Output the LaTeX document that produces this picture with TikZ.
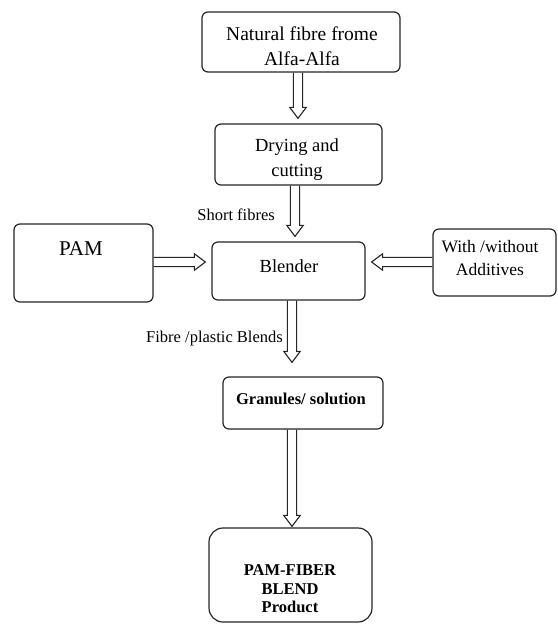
\documentclass[tikz,border=0pt]{standalone}
\usepackage{fontspec}
\setmainfont{Liberation Serif}
\usetikzlibrary{calc}
\tikzset{
  box/.style={draw=black!85, line width=1.2pt, rounded corners=6pt, inner sep=0pt},
  bigbox/.style={box, rounded corners=14pt},
  txt/.style={align=center, inner sep=0pt, font=\fontsize{18.5}{25}\selectfont},
  lbl/.style={inner sep=0pt, font=\fontsize{16.5}{18}\selectfont},
  btxt/.style={align=center, inner sep=0pt, font=\fontsize{16.5}{18.5}\selectfont\bfseries},
  harrow/.style={draw=black!85, line width=1.1pt, line join=miter}
}
% vertical down hollow arrow: #1 x, #2 from node, #3 to node, #4 gap above target
\newcommand{\dnarrow}[4]{%
  \draw[harrow] let \p1=(#2.south), \p2=(#3.north), \p3=(#1,0) in
    (\x3-4.6pt,\y1) -- (\x3-4.6pt,\y2+#4+11pt) -- (\x3-8.2pt,\y2+#4+11pt) --
    (\x3,\y2+#4) -- (\x3+8.2pt,\y2+#4+11pt) -- (\x3+4.6pt,\y2+#4+11pt) -- (\x3+4.6pt,\y1);}
% horizontal hollow arrow to the right: #1 y, #2 from node, #3 to node, #4 gap
\newcommand{\rtarrow}[4]{%
  \draw[harrow] let \p1=(#2.east), \p2=(#3.west), \p3=(0,#1) in
    (\x1,\y3+4.6pt) -- (\x2-#4-11pt,\y3+4.6pt) -- (\x2-#4-11pt,\y3+8.2pt) --
    (\x2-#4,\y3) -- (\x2-#4-11pt,\y3-8.2pt) -- (\x2-#4-11pt,\y3-4.6pt) -- (\x1,\y3-4.6pt);}
% horizontal hollow arrow to the left
\newcommand{\ltarrow}[4]{%
  \draw[harrow] let \p1=(#2.west), \p2=(#3.east), \p3=(0,#1) in
    (\x1,\y3+4.6pt) -- (\x2+#4+11pt,\y3+4.6pt) -- (\x2+#4+11pt,\y3+8.2pt) --
    (\x2+#4,\y3) -- (\x2+#4+11pt,\y3-8.2pt) -- (\x2+#4+11pt,\y3-4.6pt) -- (\x1,\y3-4.6pt);}
\begin{document}
\begin{tikzpicture}[x=1pt, y=-1pt]
\useasboundingbox[fill=white] (0,0) rectangle (557,626);

% boxes
\node[box, minimum width=198pt, minimum height=60pt] (nat) at (301,42) {};
\node[txt, font=\fontsize{19.5}{25}\selectfont] (natT) at (302,46) {Natural fibre frome\\Alfa-Alfa};

\node[box, minimum width=167pt, minimum height=61pt] (dry) at (298.5,154.5) {};
\node[txt] (dryT) at (297,160) {Drying and\\cutting};

\node[box, minimum width=139pt, minimum height=78pt] (pam) at (83.5,263) {};
\node[inner sep=0pt, font=\fontsize{21}{24}\selectfont] (pamT) at (81,249) {PAM};

\node[box, minimum width=153pt, minimum height=58pt] (blend) at (288.5,271) {};
\node[txt] (blendT) at (289,266) {Blender};

\node[box, minimum width=123pt, minimum height=67pt] (add) at (494.5,262.5) {};
\node[txt, font=\fontsize{17.5}{23}\selectfont] (addT) at (490,258.5) {With /without\\Additives};

\node[box, minimum width=160pt, minimum height=52pt] (gran) at (303,403) {};
\node[btxt] (granT) at (301,399) {Granules/ solution};

\node[bigbox, minimum width=163pt, minimum height=94pt] (prod) at (290.5,575) {};
\node[btxt] (prodT) at (290,589) {PAM-FIBER\\BLEND\\Product};

% arrows
\dnarrow{298}{nat}{dry}{5pt}
\dnarrow{295}{dry}{blend}{5pt}
\dnarrow{292}{blend}{gran}{14pt}
\dnarrow{292}{gran}{prod}{1pt}
\rtarrow{262}{pam}{blend}{6pt}
\ltarrow{262}{add}{blend}{6pt}

% labels
\node[lbl, anchor=east] (l1) at (275,215) {Short fibres};
\node[lbl, anchor=east] (l2) at (283,339) {Fibre /plastic Blends};
\end{tikzpicture}
\end{document}
